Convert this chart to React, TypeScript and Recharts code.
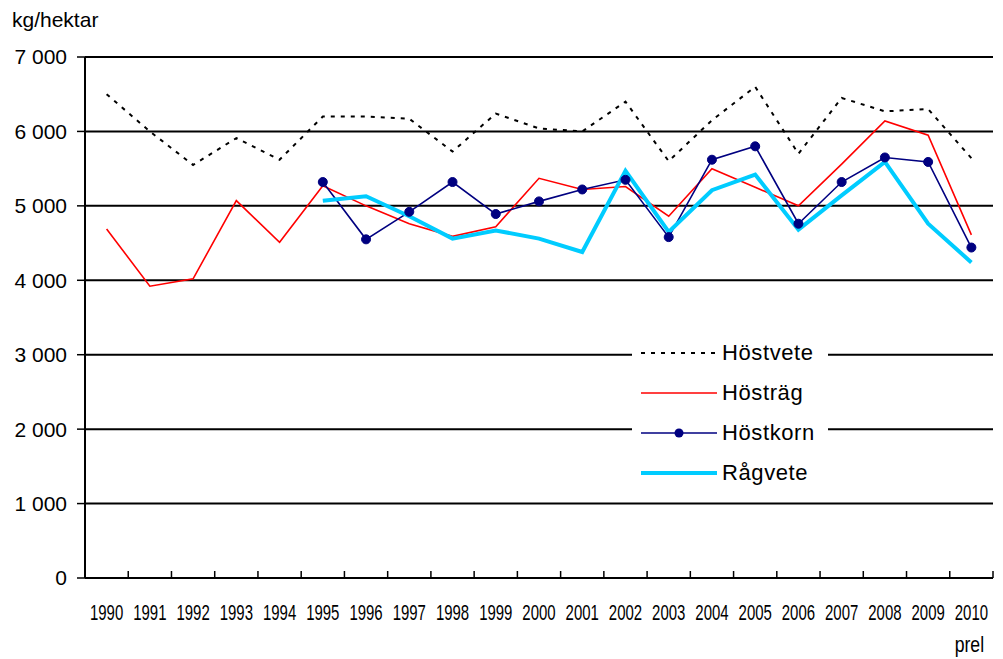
import { LineChart, Line, XAxis, YAxis, CartesianGrid, Legend } from "recharts";

const years = [
  "1990", "1991", "1992", "1993", "1994", "1995", "1996", "1997", "1998", "1999", "2000",
  "2001", "2002", "2003", "2004", "2005", "2006", "2007", "2008", "2009", "2010",
];

const hostvete = [6500, 6000, 5550, 5910, 5620, 6200, 6200, 6170, 5730, 6240, 6040, 6000, 6400, 5600, 6150, 6600, 5700, 6450, 6270, 6300, 5640];
const hostrag = [4690, 3920, 4020, 5070, 4510, 5270, 5000, 4760, 4590, 4720, 5370, 5220, 5260, 4860, 5500, 5250, 5000, 5560, 6140, 5950, 4610];
const hostkorn = [null, null, null, null, null, 5320, 4550, 4920, 5320, 4890, 5060, 5220, 5350, 4580, 5620, 5800, 4760, 5320, 5650, 5590, 4440];
const ragvete = [null, null, null, null, null, 5070, 5130, 4860, 4560, 4670, 4560, 4380, 5470, 4650, 5210, 5420, 4680, 5140, 5590, 4760, 4240];

const yTicks = [0, 1000, 2000, 3000, 4000, 5000, 6000, 7000];

const data = years.map((year, i) => ({
  year,
  hostvete: hostvete[i],
  hostrag: hostrag[i],
  hostkorn: hostkorn[i],
  ragvete: ragvete[i],
}));

const series = [
  { key: "hostvete", name: "Höstvete", color: "#000000", width: 2, dash: "4 6", dot: false },
  { key: "hostrag", name: "Hösträg", color: "#FF0000", width: 1.6, dash: undefined, dot: false },
  { key: "hostkorn", name: "Höstkorn", color: "#000080", width: 1.6, dash: undefined, dot: true },
  { key: "ragvete", name: "Rågvete", color: "#00CCFF", width: 4, dash: undefined, dot: false },
];

const PLOT_W = 908;
const BAND = PLOT_W / years.length;

// year labels are squeezed horizontally like the original
function YearTick(props: any) {
  const { x, y, payload, index } = props;
  const last = index === years.length - 1;
  return (
    <g>
      <line x1={x - BAND / 2} x2={x - BAND / 2} y1={y} y2={y - 7} stroke="#000" strokeWidth={1.5} />
      {last && <line x1={x + BAND / 2} x2={x + BAND / 2} y1={y} y2={y - 7} stroke="#000" strokeWidth={1.5} />}
      <text transform={`translate(${x},${y + 42}) scale(0.68,1)`} textAnchor="middle" fontSize={22} fill="#000">
        {payload.value}
      </text>
      {last && (
        <text transform={`translate(${x - 2},${y + 74}) scale(0.8,1)`} textAnchor="middle" fontSize={22} fill="#000">
          prel
        </text>
      )}
    </g>
  );
}

function LegendBox() {
  return (
    <div style={{ background: "#fff", width: 196, padding: "0 0 0 9px", boxSizing: "border-box" }}>
      {series.map((s) => (
        <div key={s.key} style={{ display: "flex", alignItems: "center", height: 40 }}>
          <svg width={76} height={20}>
            <line x1={0} x2={76} y1={10} y2={10} stroke={s.color} strokeWidth={s.width} strokeDasharray={s.dash} />
            {s.dot && <circle cx={38} cy={10} r={4.5} fill={s.color} />}
          </svg>
          <span style={{ marginLeft: 5, fontSize: 22, letterSpacing: 0.6, color: "#000", lineHeight: "20px" }}>
            {s.name}
          </span>
        </div>
      ))}
    </div>
  );
}

export default function App() {
  return (
    <div style={{ position: "absolute", left: 0, top: 0, fontFamily: "'Liberation Sans', Arial, sans-serif" }}>
      <LineChart width={1003} height={659} data={data} margin={{ top: 57, right: 10, left: 0, bottom: 0 }}>
        <CartesianGrid vertical={false} stroke="#000" strokeWidth={2} />
        <XAxis
          dataKey="year"
          height={81}
          padding={{ left: BAND / 2, right: BAND / 2 }}
          axisLine={{ stroke: "#000", strokeWidth: 2 }}
          tickLine={false}
          tickSize={0}
          tickMargin={0}
          interval={0}
          tick={<YearTick />}
        />
        <YAxis
          width={85}
          domain={[0, 7000]}
          ticks={yTicks}
          interval={0}
          tickSize={8}
          tickMargin={10}
          axisLine={{ stroke: "#000", strokeWidth: 2 }}
          tickLine={{ stroke: "#000", strokeWidth: 1.5 }}
          tick={{ fill: "#000", fontSize: 21 }}
          tickFormatter={(v: number) => (v === 0 ? "0" : `${v / 1000} 000`)}
          label={{
            content: () => (
              <text x={12} y={27} fontSize={21} fill="#000">
                kg/hektar
              </text>
            ),
          }}
        />
        <YAxis
          yAxisId="right"
          orientation="right"
          width={0}
          domain={[0, 7000]}
          tick={false}
          tickLine={false}
          axisLine={{ stroke: "#808080", strokeWidth: 2 }}
        />
        <Legend
          layout="vertical"
          align="center"
          verticalAlign="middle"
          content={() => <LegendBox />}
          wrapperStyle={{ position: "absolute", left: 632, top: 333, width: 196 }}
        />
        {series.map((s) => (
          <Line
            key={s.key}
            dataKey={s.key}
            name={s.name}
            type="linear"
            stroke={s.color}
            strokeWidth={s.width}
            strokeDasharray={s.dash}
            dot={s.dot ? { r: 4.5, fill: s.color, stroke: s.color, strokeWidth: 1 } : false}
            activeDot={false}
            connectNulls={false}
            isAnimationActive={false}
          />
        ))}
      </LineChart>
    </div>
  );
}
